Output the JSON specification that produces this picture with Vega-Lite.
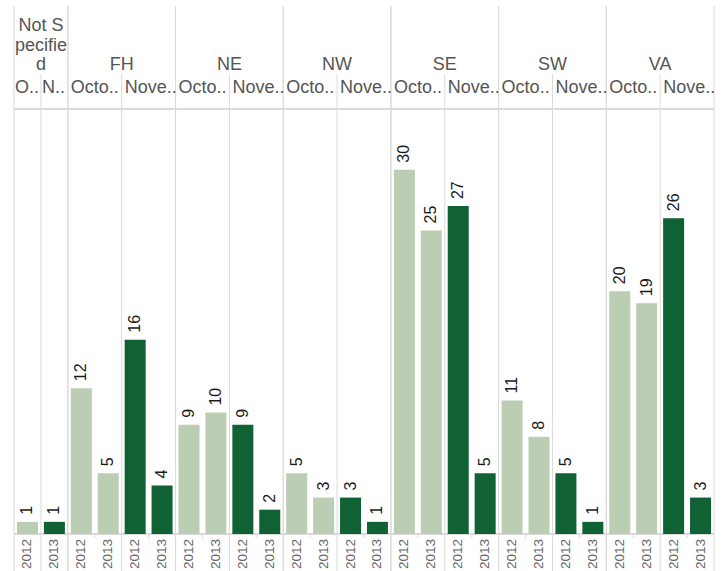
{
  "$schema": "https://vega.github.io/schema/vega-lite/v6.json",
  "padding": {"left": 13, "top": 5, "right": 10, "bottom": 0},
  "width": 700,
  "height": 566,
  "config": {"font": "Liberation Sans", "view": {"stroke": null}},
  "data": {"values": [
    {"region": "Not Specified", "month": "October", "year": 2012, "key": "Not Specified|October|2012", "count": 1},
    {"region": "Not Specified", "month": "November", "year": 2013, "key": "Not Specified|November|2013", "count": 1},
    {"region": "FH", "month": "October", "year": 2012, "key": "FH|October|2012", "count": 12},
    {"region": "FH", "month": "October", "year": 2013, "key": "FH|October|2013", "count": 5},
    {"region": "FH", "month": "November", "year": 2012, "key": "FH|November|2012", "count": 16},
    {"region": "FH", "month": "November", "year": 2013, "key": "FH|November|2013", "count": 4},
    {"region": "NE", "month": "October", "year": 2012, "key": "NE|October|2012", "count": 9},
    {"region": "NE", "month": "October", "year": 2013, "key": "NE|October|2013", "count": 10},
    {"region": "NE", "month": "November", "year": 2012, "key": "NE|November|2012", "count": 9},
    {"region": "NE", "month": "November", "year": 2013, "key": "NE|November|2013", "count": 2},
    {"region": "NW", "month": "October", "year": 2012, "key": "NW|October|2012", "count": 5},
    {"region": "NW", "month": "October", "year": 2013, "key": "NW|October|2013", "count": 3},
    {"region": "NW", "month": "November", "year": 2012, "key": "NW|November|2012", "count": 3},
    {"region": "NW", "month": "November", "year": 2013, "key": "NW|November|2013", "count": 1},
    {"region": "SE", "month": "October", "year": 2012, "key": "SE|October|2012", "count": 30},
    {"region": "SE", "month": "October", "year": 2013, "key": "SE|October|2013", "count": 25},
    {"region": "SE", "month": "November", "year": 2012, "key": "SE|November|2012", "count": 27},
    {"region": "SE", "month": "November", "year": 2013, "key": "SE|November|2013", "count": 5},
    {"region": "SW", "month": "October", "year": 2012, "key": "SW|October|2012", "count": 11},
    {"region": "SW", "month": "October", "year": 2013, "key": "SW|October|2013", "count": 8},
    {"region": "SW", "month": "November", "year": 2012, "key": "SW|November|2012", "count": 5},
    {"region": "SW", "month": "November", "year": 2013, "key": "SW|November|2013", "count": 1},
    {"region": "VA", "month": "October", "year": 2012, "key": "VA|October|2012", "count": 20},
    {"region": "VA", "month": "October", "year": 2013, "key": "VA|October|2013", "count": 19},
    {"region": "VA", "month": "November", "year": 2012, "key": "VA|November|2012", "count": 26},
    {"region": "VA", "month": "November", "year": 2013, "key": "VA|November|2013", "count": 3}
  ]},
  "transform": [
    {"window": [{"op": "row_number", "as": "rf"}], "groupby": ["region", "month"], "sort": [{"field": "year", "order": "ascending"}]},
    {"window": [{"op": "row_number", "as": "rl"}], "groupby": ["region", "month"], "sort": [{"field": "year", "order": "descending"}]}
  ],
  "layer": [
    {
      "mark": {"type": "rule", "color": "#dadada"},
      "encoding": {"y": {"datum": 35, "type": "quantitative", "axis": null}}
    },
    {
      "mark": {"type": "rule", "color": "#dadada"},
      "encoding": {"y": {"datum": 0, "type": "quantitative", "axis": null}}
    },
    {
      "transform": [{"filter": "datum.month === 'October' && datum.rf === 1"}],
      "mark": {"type": "rule", "color": "#dadada"},
      "encoding": {"x": {"field": "key", "type": "nominal", "bandPosition": 0, "axis": null}}
    },
    {
      "transform": [{"filter": "datum.month === 'November' && datum.rl === 1"}],
      "mark": {"type": "rule", "color": "#dadada"},
      "encoding": {"x": {"field": "key", "type": "nominal", "bandPosition": 1, "axis": null}}
    },
    {
      "transform": [{"filter": "datum.month === 'November' && datum.rf === 1"}],
      "mark": {"type": "rule", "color": "#dadada"},
      "encoding": {
        "x": {"field": "key", "type": "nominal", "bandPosition": 0, "axis": null},
        "y": {"datum": -3.13, "type": "quantitative", "axis": null},
        "y2": {"datum": 37.88}
      }
    },
    {
      "transform": [{"filter": "datum.rf === 2"}],
      "mark": {"type": "rule", "color": "#dadada"},
      "encoding": {
        "x": {"field": "key", "type": "nominal", "bandPosition": 0, "axis": null},
        "y": {"datum": 0, "type": "quantitative", "axis": null},
        "y2": {"datum": -0.35}
      }
    },
    {
      "mark": {"type": "bar", "width": {"band": 0.78}},
      "encoding": {
        "x": {"field": "key", "type": "nominal", "axis": null, "scale": {"paddingInner": 0, "paddingOuter": 0, "domain": ["Not Specified|October|2012","Not Specified|November|2013","FH|October|2012","FH|October|2013","FH|November|2012","FH|November|2013","NE|October|2012","NE|October|2013","NE|November|2012","NE|November|2013","NW|October|2012","NW|October|2013","NW|November|2012","NW|November|2013","SE|October|2012","SE|October|2013","SE|November|2012","SE|November|2013","SW|October|2012","SW|October|2013","SW|November|2012","SW|November|2013","VA|October|2012","VA|October|2013","VA|November|2012","VA|November|2013"]}},
        "y": {"field": "count", "type": "quantitative", "scale": {"domain": [-3.13, 43.48], "nice": false, "zero": false}, "axis": null},
        "y2": {"datum": 0},
        "color": {"field": "month", "type": "nominal", "scale": {"domain": ["October", "November"], "range": ["#bbcdb3", "#106133"]}, "legend": null}
      }
    },
    {
      "mark": {"type": "text", "angle": 270, "align": "left", "baseline": "middle", "dx": 7, "fontSize": 16, "color": "#1a1a1a"},
      "encoding": {
        "x": {"field": "key", "type": "nominal", "axis": null},
        "y": {"field": "count", "type": "quantitative", "axis": null},
        "text": {"field": "count", "type": "quantitative"}
      }
    },
    {
      "mark": {"type": "text", "angle": 270, "align": "center", "baseline": "middle", "fontSize": 13.5, "color": "#666666"},
      "encoding": {
        "x": {"field": "key", "type": "nominal", "axis": null},
        "y": {"datum": -1.65, "type": "quantitative", "axis": null},
        "text": {"field": "year", "type": "nominal"}
      }
    },
    {
      "transform": [{"filter": "datum.rf === 1 && datum.region !== 'Not Specified'"}],
      "mark": {"type": "text", "align": "left", "baseline": "alphabetic", "dx": 3, "fontSize": 18, "limit": 53, "ellipsis": "..", "color": "#555555"},
      "encoding": {
        "x": {"field": "key", "type": "nominal", "bandPosition": 0, "axis": null},
        "y": {"datum": 36.32, "type": "quantitative", "axis": null},
        "text": {"field": "month", "type": "nominal"}
      }
    },
    {
      "transform": [{"filter": "datum.rf === 1 && datum.region === 'Not Specified'"}],
      "mark": {"type": "text", "align": "left", "baseline": "alphabetic", "dx": 1, "fontSize": 18, "limit": 26, "ellipsis": "..", "color": "#555555"},
      "encoding": {
        "x": {"field": "key", "type": "nominal", "bandPosition": 0, "axis": null},
        "y": {"datum": 36.32, "type": "quantitative", "axis": null},
        "text": {"field": "month", "type": "nominal"}
      }
    },
    {
      "transform": [{"filter": "datum.month === 'November' && datum.rf === 1 && datum.region !== 'Not Specified'"}],
      "mark": {"type": "text", "align": "center", "baseline": "alphabetic", "fontSize": 18, "color": "#555555"},
      "encoding": {
        "x": {"field": "key", "type": "nominal", "bandPosition": 0, "axis": null},
        "y": {"datum": 38.21, "type": "quantitative", "axis": null},
        "text": {"field": "region", "type": "nominal"}
      }
    },
    {
      "transform": [{"filter": "datum.month === 'November' && datum.rf === 1 && datum.region === 'Not Specified'"}],
      "mark": {"type": "text", "align": "center", "baseline": "alphabetic", "fontSize": 18, "lineHeight": 19.5, "color": "#555555"},
      "encoding": {
        "x": {"field": "key", "type": "nominal", "bandPosition": 0, "axis": null},
        "y": {"datum": 41.42, "type": "quantitative", "axis": null},
        "text": {"value": ["Not S", "pecifie", "d"]}
      }
    }
  ]
}
